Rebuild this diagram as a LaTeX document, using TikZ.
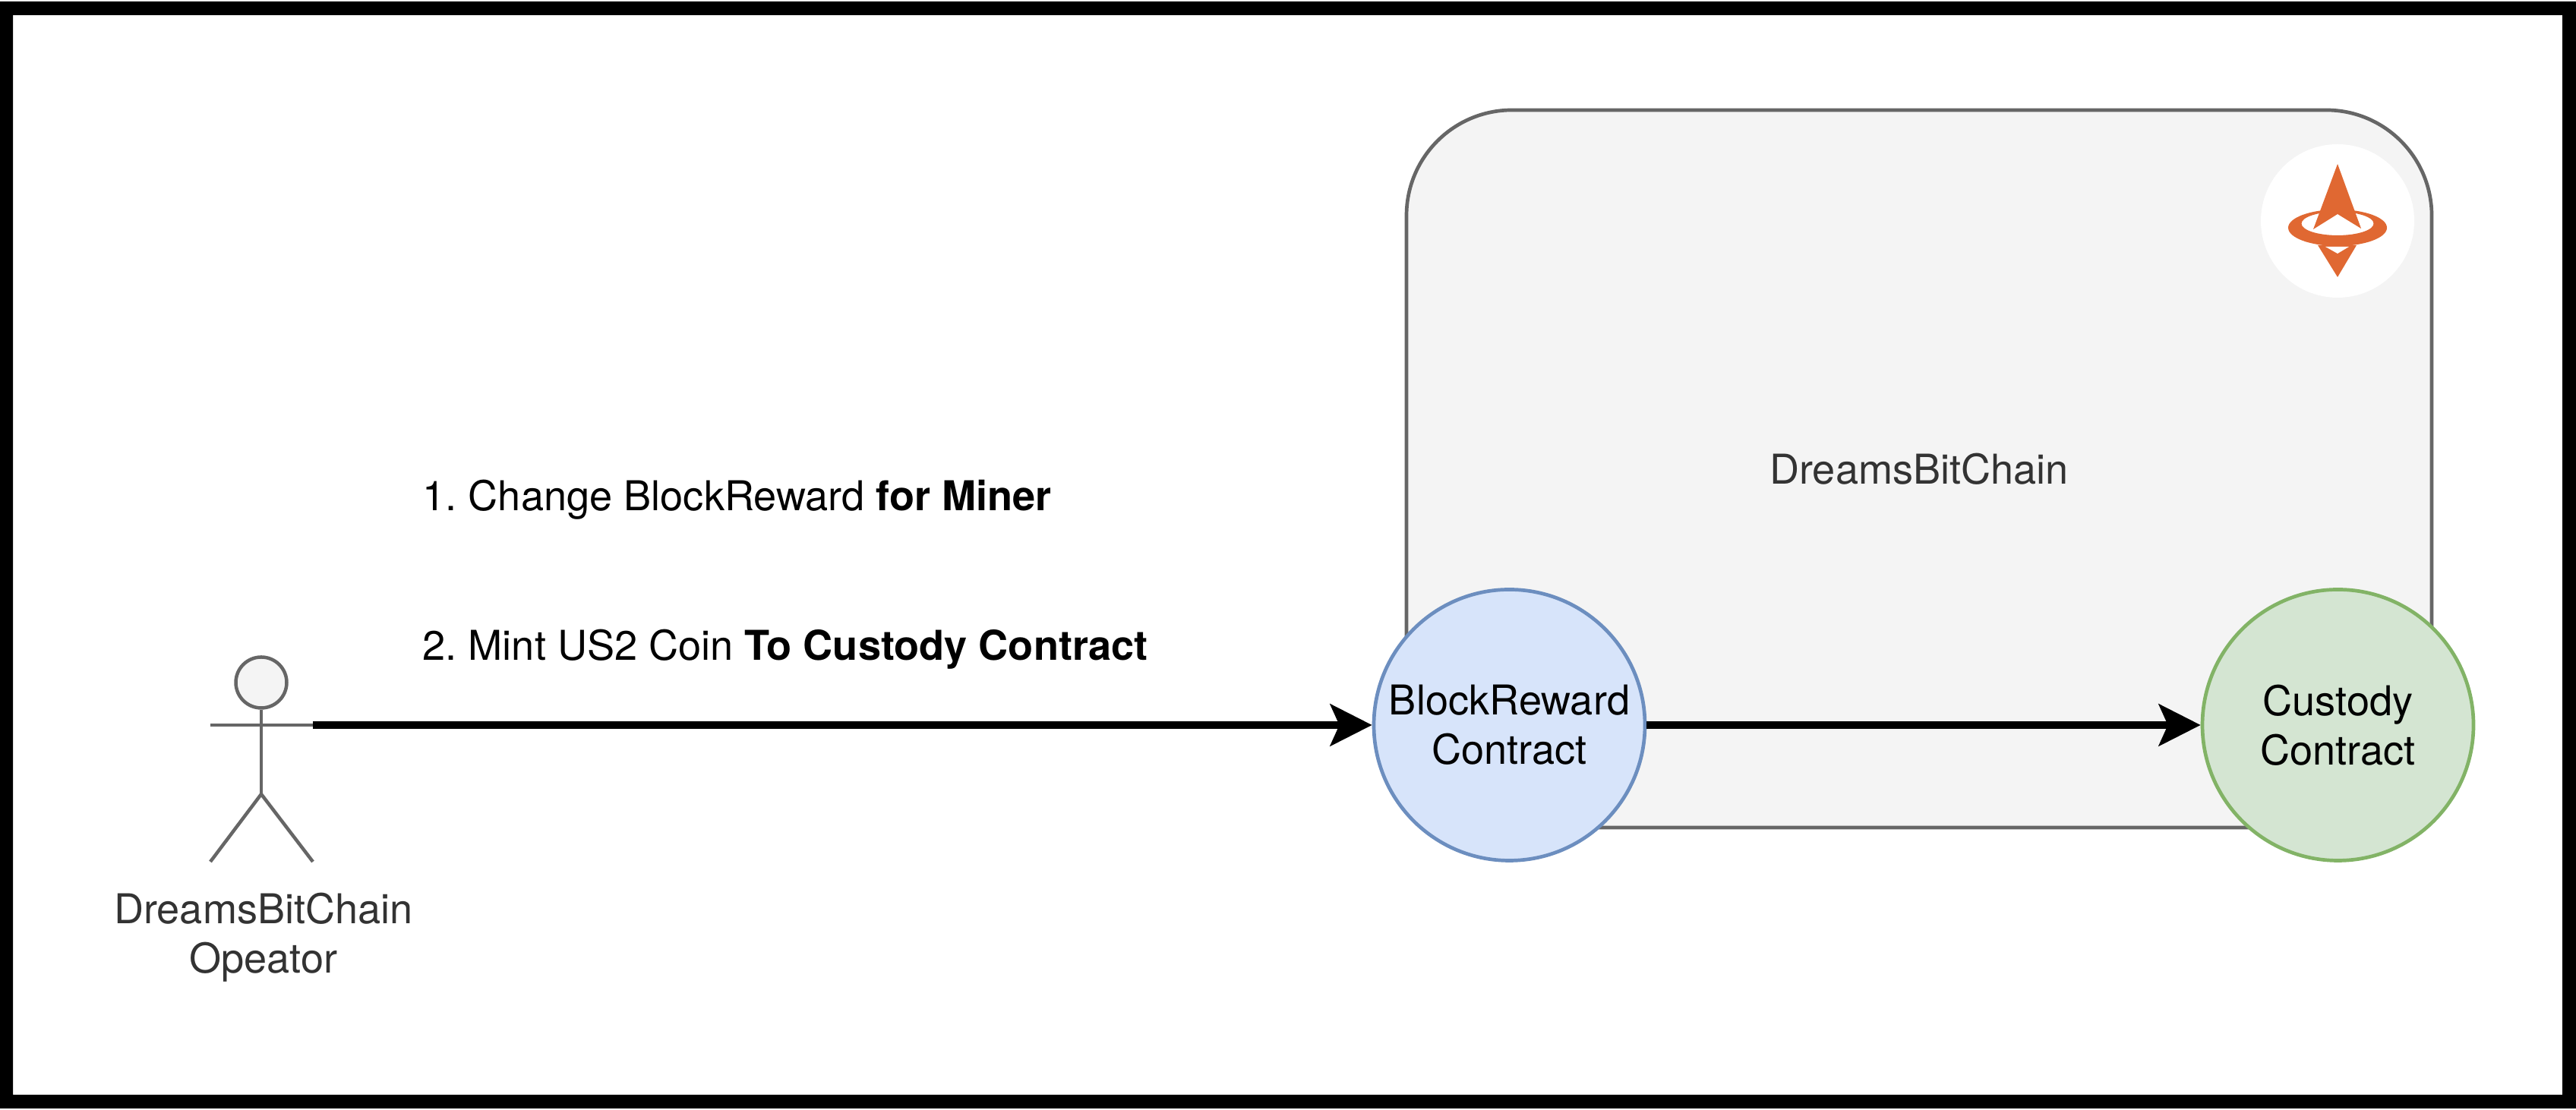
\documentclass[tikz,border=0pt]{standalone}
\usepackage{fontspec}
\setmainfont{TeX Gyre Heros}
\usepackage{tikz}
\usetikzlibrary{shapes, arrows.meta, positioning}
\definecolor{panelfill}{HTML}{F4F4F4}
\definecolor{panelline}{HTML}{666666}
\definecolor{rewardfill}{HTML}{D7E4FA}
\definecolor{rewardline}{HTML}{6C8EBF}
\definecolor{custodyfill}{HTML}{D4E5D2}
\definecolor{custodyline}{HTML}{82B366}
\definecolor{labelgrey}{HTML}{333333}
\definecolor{logoorange}{HTML}{E06832}
\frenchspacing
\tikzset{
  basetext/.style={font=\fontsize{15.4}{18.5}\selectfont, inner sep=0pt, align=center},
  contract/.style={basetext, circle, draw, line width=0.047cm, minimum size=3.57cm},
  actorline/.style={draw=panelline, line width=0.045cm},
  flow/.style={line width=0.095cm, -{Stealth[length=0.55cm,width=0.55cm,inset=0.12cm]}}
}

\begin{document}
\begin{tikzpicture}
\useasboundingbox (0,0) rectangle (33.92,14.62);
\fill[even odd rule]
  (0,0.02) rectangle (33.92,14.60)
  (0.17,0.20) rectangle (33.74,14.42);
% the chain panel
\node[draw=panelline, fill=panelfill, line width=0.047cm, rounded corners=1.39cm,
  minimum width=13.5cm, minimum height=9.45cm] (panel) at (25.27,8.445) {};
\node[basetext, text=labelgrey, anchor=base] (chainlabel) at (25.27,8.24) {DreamsBitChain};
% logo
\node[circle, fill=white, minimum size=2.02cm] (badge) at (30.78,11.71) {};
\path
  coordinate (startop) at (30.78,12.46)
  coordinate (starleft) at (30.46,11.60)
  coordinate (starnotch) at (30.78,11.80)
  coordinate (starright) at (31.09,11.61)
  coordinate (spikeleft) at (30.52,11.39)
  coordinate (spikeright) at (31.03,11.39)
  coordinate (spiketip) at (30.78,10.97)
  coordinate (cutleft) at (30.62,11.37)
  coordinate (cutright) at (30.93,11.37)
  coordinate (cuttip) at (30.78,11.28)
  ;
\fill[logoorange] (spikeleft) -- (spikeright) -- (spiketip) -- cycle;
\fill[white] (cutleft) -- (cutright) -- (cuttip) -- cycle;
\fill[logoorange, even odd rule]
  (30.78,11.62) ellipse (0.65 and 0.24)
  (30.78,11.675) ellipse (0.475 and 0.155);
\fill[logoorange] (startop) -- (starright) -- (starnotch) -- (starleft) -- cycle;
% contracts
\node[contract, draw=rewardline, fill=rewardfill] (reward) at (19.875,5.07) {BlockReward\\Contract};
\node[contract, draw=custodyline, fill=custodyfill] (custody) at (30.785,5.07) {Custody\\Contract};
% operator
\node[circle, actorline, fill=panelfill, minimum size=0.67cm, inner sep=0pt] (head) at (3.44,5.63) {};
\path
  coordinate (armleft) at (2.77,5.07)
  coordinate (armright) at (4.12,5.07)
  coordinate (waist) at (3.44,4.16)
  coordinate (footleft) at (2.77,3.27)
  coordinate (footright) at (4.12,3.27)
  ;
\draw[actorline] (armleft) -- (armright);
\draw[actorline] (head) -- (waist);
\draw[actorline] (footleft) -- (waist) -- (footright);
\node[basetext, text=labelgrey] (operator) at (3.47,2.27) {DreamsBitChain\\Opeator};
% steps
\node[basetext, anchor=base west] (stepone) at (5.56,7.89) {1. Change BlockReward \textbf{for Miner}};
\node[basetext, anchor=base west] (steptwo) at (5.56,5.92) {2. Mint US2 Coin \textbf{To Custody Contract}};
\draw[flow] (armright) -- (reward);
\draw[flow] (reward) -- (custody);
\end{tikzpicture}
\end{document}
